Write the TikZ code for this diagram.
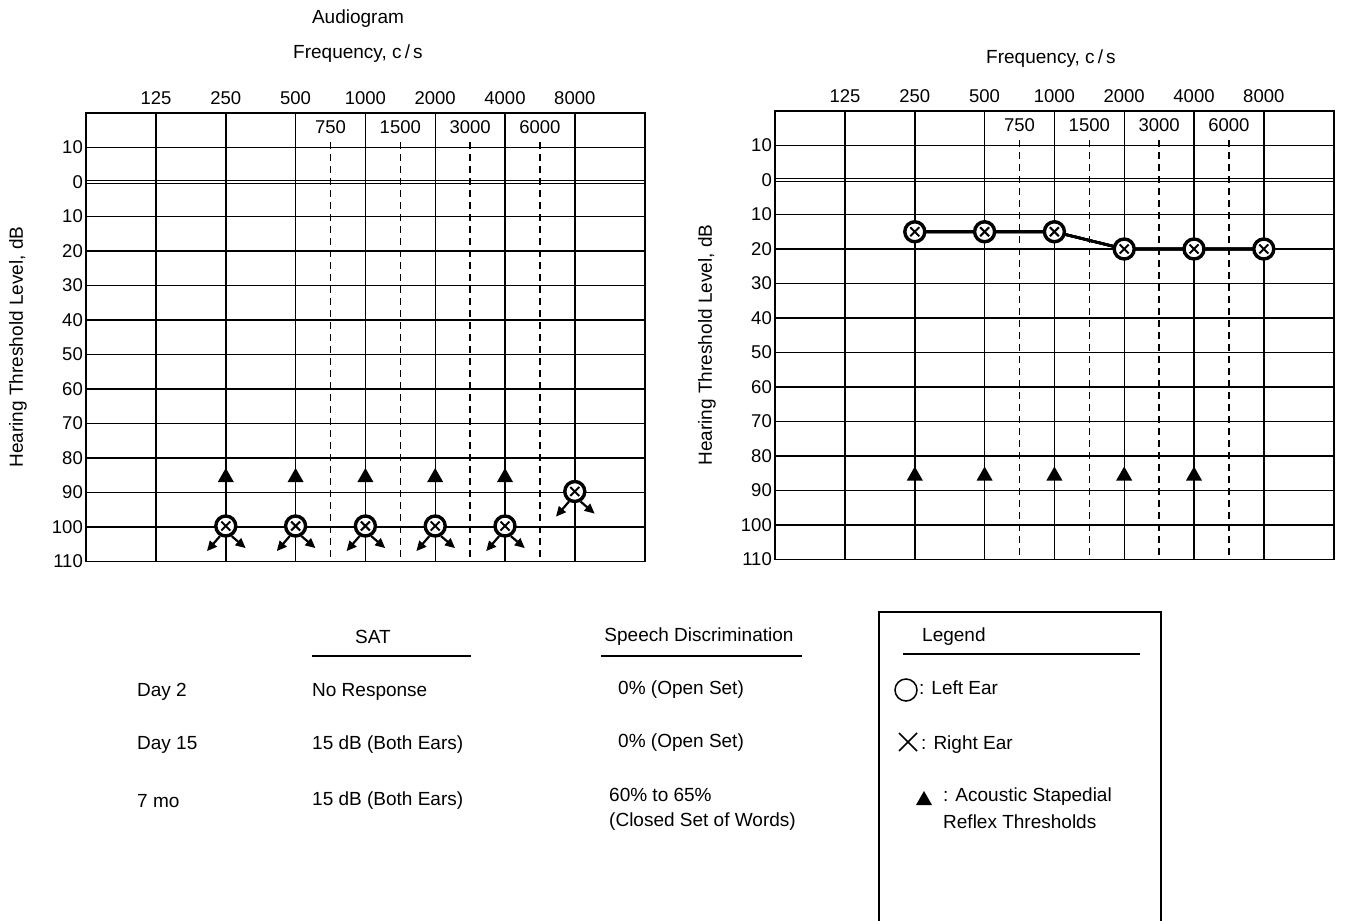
\documentclass[tikz,border=0pt]{standalone}
\usepackage{fontspec}
\setmainfont{Liberation Sans}
\usetikzlibrary{arrows.meta}
\tikzset{
  grid/.style={line width=1.4pt},
  dgrid/.style={line width=1.4pt, dash pattern=on 7pt off 5pt},
  lbl/.style={font=\fontsize{19}{23}\selectfont, inner sep=0pt},
  num/.style={font=\fontsize{18.5}{22}\selectfont, inner sep=0pt},
  cx/.style={circle, draw, line width=3.4pt, minimum size=20pt, inner sep=0pt, fill=white},
  xarm/.style={line width=2pt},
  nr/.style={line width=2.2pt, -{Triangle[length=10pt,width=9pt]}},
  link/.style={line width=2.6pt},
  uline/.style={line width=1.4pt}
}
\newcommand\drawchart[3]{%
  \pgfmathsetmacro\chT{#2-69}%
  \pgfmathsetmacro\chB{#2+379.5}%
  \pgfmathsetmacro\chR{#1+558.8}%
  \draw[grid] (#1,\chT) rectangle (\chR,\chB);
  \draw[grid] (#1,#2-34.5) -- (\chR,#2-34.5);
  \draw[grid] (#1,#2-1.5) -- (\chR,#2-1.5);
  \draw[grid] (#1,#2+1.5) -- (\chR,#2+1.5);
  \foreach \d in {1,...,10} \draw[grid] (#1,#2+34.5*\d) -- (\chR,#2+34.5*\d);
  \foreach \k/\f in {0/125,1/250,2/500,3/1000,4/2000,5/4000,6/8000} {
    \draw[grid] (#1+70+69.8*\k,\chT) -- (#1+70+69.8*\k,\chB);
    \node[num] (#3f\f) at (#1+70+69.8*\k,\chT-15) {\f};
  }
  \foreach \k/\f in {2/750,3/1500,4/3000,5/6000} {
    \draw[dgrid] (#1+70+69.8*\k+34.9,\chT+29) -- (#1+70+69.8*\k+34.9,\chB);
    \node[num] (#3s\f) at (#1+70+69.8*\k+34.9,\chT+14) {\f};
  }
  \foreach \v [count=\i from 0] in {10,0,10,20,30,40,50,60,70,80,90,100,110}
    \node[num, anchor=east] (#3y\i) at (#1-3,#2+34.5*\i-34.5) {\v};
}
\newcommand\cxsym[3]{%
  \node[cx] (#3) at (#1,#2) {};
  \draw[xarm] (#3.center) ++(-4.5,-4.5) -- ++(9,9);
  \draw[xarm] (#3.center) ++(-4.5,4.5) -- ++(9,-9);
}
\newcommand\nrsym[3]{%
  \cxsym{#1}{#2}{#3}
  \draw[nr] (#3.-120) -- ++(-13,15);
  \draw[nr] (#3.-60) -- ++(14,12);
}
\newcommand\trisym[2]{%
  \fill (#1-8,#2+7) -- (#1+8,#2+7) -- (#1,#2-7) -- cycle;
}
\begin{document}
\begin{tikzpicture}[x=1pt,y=-1pt]
\useasboundingbox (0,0) rectangle (1345,921);
\fill[white] (0,0) rectangle (1345,921);

% ---------- left chart ----------
\node[lbl] (title) at (358,19) {Audiogram};
\node[lbl] (freqL) at (358,54) {Frequency, c\,/\,s};
\drawchart{86}{182}{L}
\node[lbl, rotate=90] (ytL) at (18,347) {Hearing Threshold Level, dB};
\foreach \k in {1,...,5} {
  \trisym{156+69.8*\k}{475}
  \nrsym{156+69.8*\k}{526}{Lc\k}
}
\nrsym{574.8}{491.5}{Lc6}

% ---------- right chart ----------
\node[lbl] (freqR) at (1051,59) {Frequency, c\,/\,s};
\drawchart{775}{180}{R}
\node[lbl, rotate=90] (ytR) at (707,345) {Hearing Threshold Level, dB};
\foreach \k in {1,...,5} \trisym{845+69.8*\k}{473.5}
\draw[link] (914.8,231.75) -- (984.6,231.75) -- (1054.4,231.75) -- (1124.2,249) -- (1194,249) -- (1263.8,249);
\cxsym{914.8}{231.75}{Rc1}
\cxsym{984.6}{231.75}{Rc2}
\cxsym{1054.4}{231.75}{Rc3}
\cxsym{1124.2}{249}{Rc4}
\cxsym{1194}{249}{Rc5}
\cxsym{1263.8}{249}{Rc6}

% ---------- table ----------
\node[lbl] (hSAT) at (373,637) {SAT};
\draw[uline] (312,656) -- (471,656);
\node[lbl] (hSD) at (699,637) {Speech Discrimination};
\draw[uline] (601,656) -- (802,656);
\node[lbl, anchor=west] (d2) at (137,692) {Day 2};
\node[lbl, anchor=west] (d2s) at (312,692) {No Response};
\node[lbl, anchor=west] (d2d) at (618,690) {0\% (Open Set)};
\node[lbl, anchor=west] (d15) at (137,745) {Day 15};
\node[lbl, anchor=west] (d15s) at (312,745) {15 dB (Both Ears)};
\node[lbl, anchor=west] (d15d) at (618,743) {0\% (Open Set)};
\node[lbl, anchor=west] (m7) at (137,801) {7 mo};
\node[lbl, anchor=west] (m7s) at (312,801) {15 dB (Both Ears)};
\node[lbl, anchor=west] (m7d1) at (609,795) {60\% to 65\%};
\node[lbl, anchor=west] (m7d2) at (609,822) {(Closed Set of Words)};

% ---------- legend ----------
\draw[grid] (879,925) -- (879,612) -- (1161,612) -- (1161,925);
\node[lbl, anchor=west] (legT) at (922,637) {Legend};
\draw[uline] (903,654) -- (1140,654);
\node[circle, draw, line width=1.5pt, minimum size=22pt, inner sep=0pt] (legO) at (906,690) {};
\node[lbl, anchor=west] (legOt) at (919,688) {:\hspace{7pt}Left Ear};
\coordinate (legX) at (908,742);
\draw[line width=1.6pt] (legX) ++(-9,-9) -- ++(18,18);
\draw[line width=1.6pt] (legX) ++(-9,9) -- ++(18,-18);
\node[lbl, anchor=west] (legXt) at (921,745) {: Right Ear};
\trisym{924}{798}
\node[lbl, anchor=west] (legTt) at (943,797) {:\hspace{7pt}Acoustic Stapedial};
\node[lbl, anchor=west] (legTt2) at (943,822) {Reflex Thresholds};
\end{tikzpicture}
\end{document}
